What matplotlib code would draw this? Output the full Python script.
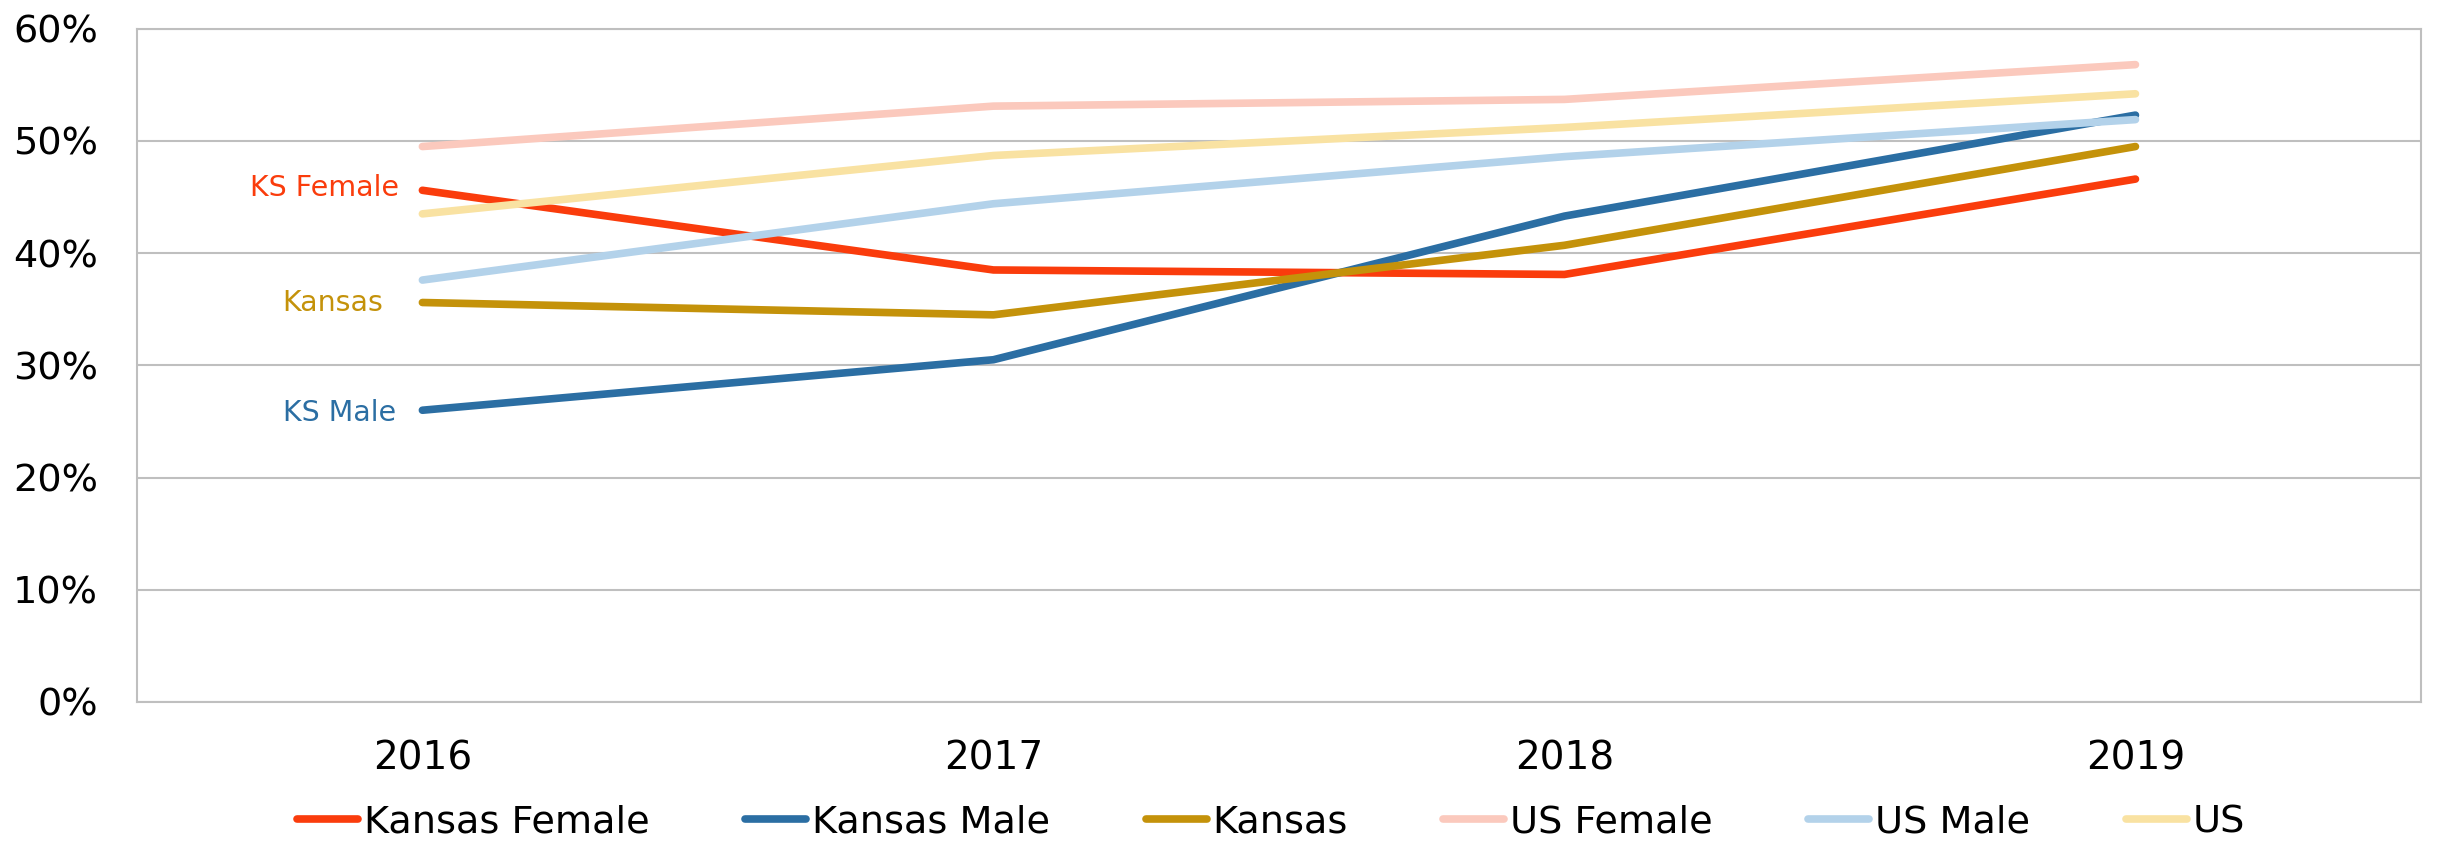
import matplotlib.pyplot as plt

years = ['2016', '2017', '2018', '2019']
ks_female = [45.6, 38.5, 38.1, 46.6]
ks_male = [26.0, 30.5, 43.3, 52.3]
kansas = [35.6, 34.5, 40.7, 49.5]
us_female = [49.5, 53.1, 53.7, 56.8]
us_male = [37.6, 44.4, 48.6, 51.9]
us = [43.5, 48.7, 51.2, 54.2]

series = [
    ('Kansas Female', ks_female, '#FA3C0C'),
    ('Kansas Male', ks_male, '#2B6EA3'),
    ('Kansas', kansas, '#C4920A'),
    ('US Female', us_female, '#FBC9BD'),
    ('US Male', us_male, '#B3D2EA'),
    ('US', us, '#F9E2A2'),
]

fig = plt.figure(figsize=(24.4, 8.42), dpi=100)
ax = fig.add_axes([0.0561, 0.1663, 0.9361, 0.7996])

x = range(len(years))
for name, vals, col in series:
    ax.plot(x, vals, color=col, lw=5.5, label=name, solid_capstyle='round')

# labels at the start of the Kansas lines
ax.annotate('KS Female', (0, ks_female[0]), xytext=(-17, 2), textcoords='offset points',
            ha='right', va='center', fontsize=20.5, color='#FA3C0C')
ax.annotate('Kansas', (0, kansas[0]), xytext=(-28, 0), textcoords='offset points',
            ha='right', va='center', fontsize=20.5, color='#C4920A')
ax.annotate('KS Male', (0, ks_male[0]), xytext=(-19, -2), textcoords='offset points',
            ha='right', va='center', fontsize=20.5, color='#2B6EA3')

ax.set_xlim(-0.5, 3.5)
ax.set_ylim(0, 60)
ax.set_xticks(list(x))
ax.set_xticklabels(years, fontsize=28)
ax.set_yticks(range(0, 61, 10))
ax.set_yticklabels([f'{v}%' for v in range(0, 61, 10)], fontsize=27.5)
ax.tick_params(axis='both', length=0)
ax.tick_params(axis='x', pad=27)
ax.tick_params(axis='y', pad=28)
ax.yaxis.grid(True, color='#BFBFBF', lw=1.5)
ax.set_axisbelow(True)
for s in ax.spines.values():
    s.set_color('#BFBFBF')
    s.set_linewidth(1.5)

fig.legend(loc='center', bbox_to_anchor=(1271 / 2440, 0.023), ncol=6, frameon=False,
           fontsize=27.5, handlelength=1.6, handletextpad=0.15, columnspacing=2.5)

plt.savefig('out.png', dpi=100)
